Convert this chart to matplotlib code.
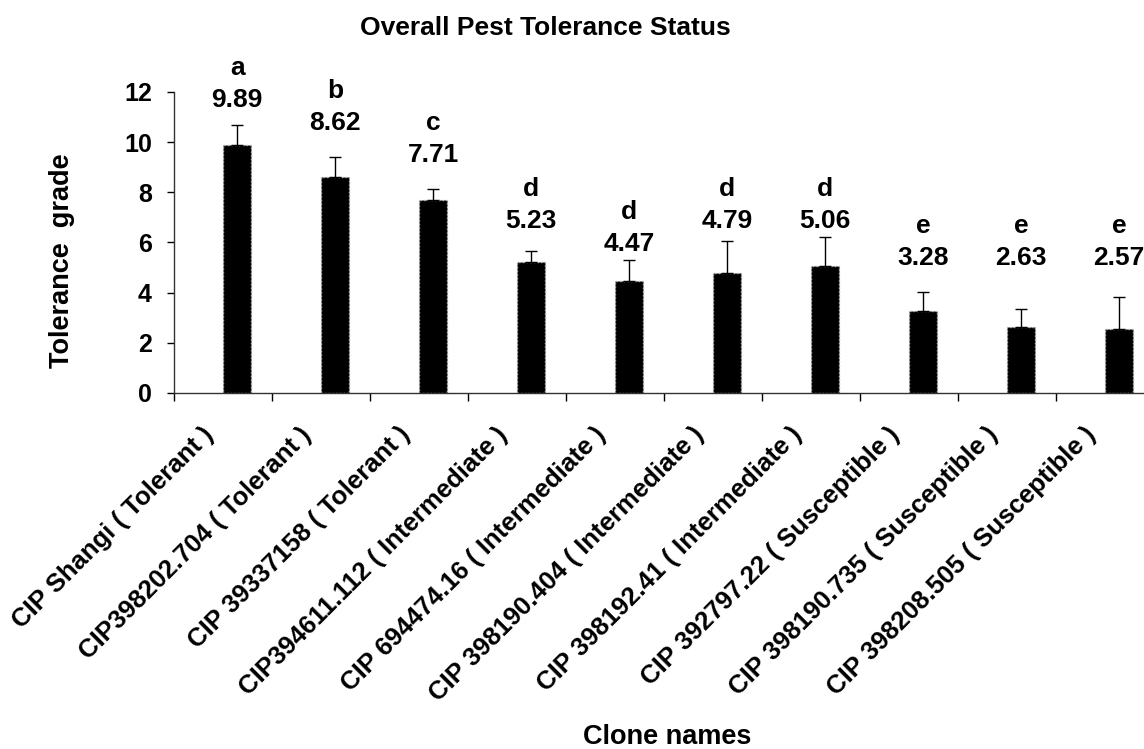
import numpy as np
import matplotlib
matplotlib.use("Agg")
import matplotlib.pyplot as plt
import matplotlib.transforms as mtransforms

plt.rcParams['font.family'] = ['Liberation Sans', 'DejaVu Sans']
plt.rcParams['font.weight'] = 'bold'

# datos del grafico
clones = ['CIP Shangi ( Tolerant )', 'CIP398202.704 ( Tolerant )',
          'CIP 39337158 ( Tolerant )', 'CIP394611.112 ( Intermediate )',
          'CIP 694474.16 ( Intermediate )', 'CIP 398190.404 ( Intermediate )',
          'CIP 398192.41 ( Intermediate )', 'CIP 392797.22 ( Susceptible )',
          'CIP 398190.735 ( Susceptible )', 'CIP 398208.505 ( Susceptible )']
medias = [9.89, 8.62, 7.71, 5.23, 4.47, 4.79, 5.06, 3.28, 2.63, 2.57]
errores = [0.80, 0.78, 0.42, 0.43, 0.83, 1.26, 1.15, 0.76, 0.73, 1.26]
letras = ['a', 'b', 'c', 'd', 'd', 'd', 'd', 'e', 'e', 'e']
# altura (linea base) de las etiquetas colocadas a mano
altura_etiqueta = [11.42, 10.48, 9.22, 6.58, 5.67, 6.58, 6.58, 5.10, 5.10, 5.10]

fig = plt.figure(figsize=(11.44, 7.49), dpi=100)
ax = fig.add_axes([174/1144, 1-393/749, 980/1144, 301/749])

x = np.arange(len(clones))
ancho = 0.29
ax.bar(x, medias, width=ancho, align='edge', color='black',
       edgecolor='#bbbbbb', linestyle=':', linewidth=1.0, zorder=2)
ax.errorbar(x + ancho/2, medias, yerr=[np.zeros(len(x)), errores], fmt='none',
            ecolor='black', elinewidth=1.0, capsize=4, capthick=1.0, zorder=3)

ax.set_xlim(-0.5, 9.5)
ax.set_ylim(0, 12)
ax.set_yticks(range(0, 13, 2))
ax.set_xticks(np.arange(-0.5, 10, 1))
ax.set_xticklabels([])
ax.tick_params(axis='y', direction='out', length=5, width=1, pad=11, labelsize=18)
ax.tick_params(axis='x', direction='out', length=6, width=1)
for s in ['top', 'right']:
    ax.spines[s].set_visible(False)
for s in ['left', 'bottom']:
    ax.spines[s].set_color('#333333')
    ax.spines[s].set_linewidth(1.0)

# etiquetas de valores y letras
for i in range(len(x)):
    ax.text(x[i] + ancho/2, altura_etiqueta[i], f'{medias[i]:.2f}', ha='center',
            va='baseline', fontsize=19, fontweight='bold')
    tr = mtransforms.offset_copy(ax.transData, fig=fig, x=0, y=32, units='dots')
    ax.text(x[i] + ancho/2, altura_etiqueta[i], letras[i], ha='center',
            va='baseline', fontsize=19, fontweight='bold', transform=tr)

# nombres de los clones rotados
tr_lab = mtransforms.offset_copy(ax.get_xaxis_transform(), fig=fig, x=-8, y=-43, units='dots')
for i in range(len(x)):
    ax.text(x[i], 0, clones[i], rotation=45, rotation_mode='anchor', ha='right',
            va='baseline', fontsize=18.5, fontweight='bold', transform=tr_lab)

fig.text(360/1144, 1-28/749, 'Overall Pest Tolerance Status', ha='left', va='center',
         fontsize=19, fontweight='bold')
fig.text(62/1144, 1-261/749, 'Tolerance  grade', rotation=90, ha='center', va='center',
         fontsize=19.5, fontweight='bold')
fig.text(667/1144, 1-737/749, 'Clone names', ha='center', va='center',
         fontsize=19.5, fontweight='bold')

fig.savefig('out.png', dpi=100)
